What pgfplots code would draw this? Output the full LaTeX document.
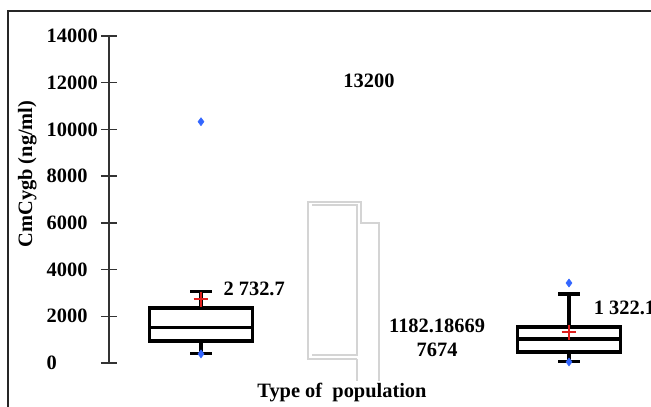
\documentclass[border=0pt]{standalone}
\usepackage{pgfplots}
\pgfplotsset{compat=1.18}
\usepackage{fontspec}
\setmainfont{Liberation Serif}
\definecolor{outblue}{HTML}{3366FF}
\definecolor{meanred}{HTML}{E0201E}
\definecolor{ghost}{HTML}{D4D4D4}

\begin{document}
\begin{tikzpicture}
\path[use as bounding box] (0,0) rectangle (488.25pt,-305.25pt);
\clip (0,0) rectangle (488.25pt,-305.25pt);
% outer frame
\draw[line width=1.1pt, black!85] (6pt,-8.25pt) rectangle (500pt,-320pt);

\begin{axis}[
  at={(81.75pt,-272.25pt)}, anchor=south west,
  scale only axis, width=414pt, height=245.25pt,
  xmin=0.5, xmax=3.5, ymin=0, ymax=14000,
  clip=false,
  axis x line=none, axis y line=left,
  y axis line style={-, line width=1.1pt, black!80},
  ytick={0,2000,...,14000},
  tick align=center, major tick length=12pt,
  ytick style={line width=1.1pt, black!80},
  scaled y ticks=false,
  /pgf/number format/1000 sep={},
  /pgf/number format/assume math mode=true,
  yticklabel style={font=\fontsize{15.3}{18}\selectfont\bfseries, anchor=west, xshift=-44.25pt},
  ylabel={CmCygb (ng/ml)},
  ylabel style={font=\fontsize{15.3}{18}\selectfont\bfseries, at={(axis description cs:-0.148,0.578)}, anchor=center},
  box/.style={black, line width=2.3pt, line join=miter, mark=none},
]

% ghost outline between the two groups
\addplot[ghost, line width=1pt, mark=none] coordinates {
  (1.848,171) (1.582,171) (1.582,6892) (1.870,6892) (1.870,5993) (1.967,5993) (1.967,-750)};
\addplot[ghost, line width=1pt, mark=none] coordinates {
  (1.605,6764) (1.848,6764) (1.848,342) (1.605,342)};
\addplot[ghost, line width=1pt, mark=none] coordinates {(1.848,171) (1.848,-750)};

% group 1: whiskers 390 / 3080, quartiles 942 / 2354, median 1500
\addplot[box] coordinates {(1,2354) (1,3080)};
\addplot[box] coordinates {(0.9425,3080) (1.0575,3080)};
\addplot[box] coordinates {(1,942) (1,390)};
\addplot[box] coordinates {(0.9425,390) (1.0575,390)};
\addplot[box] coordinates {(0.7225,942) (1.2775,942) (1.2775,2354) (0.7225,2354) (0.7225,942) (1.2775,942)};
\addplot[box] coordinates {(0.7225,1500) (1.2775,1500)};

% group 3: whiskers 45 / 2954, quartiles 471 / 1541, median 1027
\addplot[box] coordinates {(3,1541) (3,2954)};
\addplot[box] coordinates {(2.9425,2954) (3.0575,2954)};
\addplot[box] coordinates {(3,471) (3,45)};
\addplot[box] coordinates {(2.9425,45) (3.0575,45)};
\addplot[box] coordinates {(2.7225,471) (3.2775,471) (3.2775,1541) (2.7225,1541) (2.7225,471) (3.2775,471)};
\addplot[box] coordinates {(2.7225,1027) (3.2775,1027)};

% extreme values
\addplot[only marks, mark=diamond*, mark size=3pt, color=outblue] coordinates {
  (1,10330) (1,390) (3,3425) (3,45)};

% means
\addplot[only marks, mark=+, mark size=5.6pt, color=meanred, line width=1.2pt] coordinates {
  (1,2732.7) (3,1322.1)};

\node[font=\fontsize{15.3}{18}\selectfont\bfseries, anchor=west] at (axis cs:1.097,3170) {2 732.7};
\node[font=\fontsize{15.3}{18}\selectfont\bfseries, anchor=west] at (axis cs:3.11,2354) {1 322.1};
\node[font=\fontsize{15.3}{18}\selectfont\bfseries] at (axis cs:1.913,12072) {13200};
\node[font=\fontsize{15.3}{18}\selectfont\bfseries, align=center] at (axis cs:2.283,1092) {1182.18669\\7674};
\end{axis}

\node[font=\fontsize{15.3}{18}\selectfont\bfseries] at (256.5pt,-294.75pt) {Type of\ \ population};
\end{tikzpicture}
\end{document}
